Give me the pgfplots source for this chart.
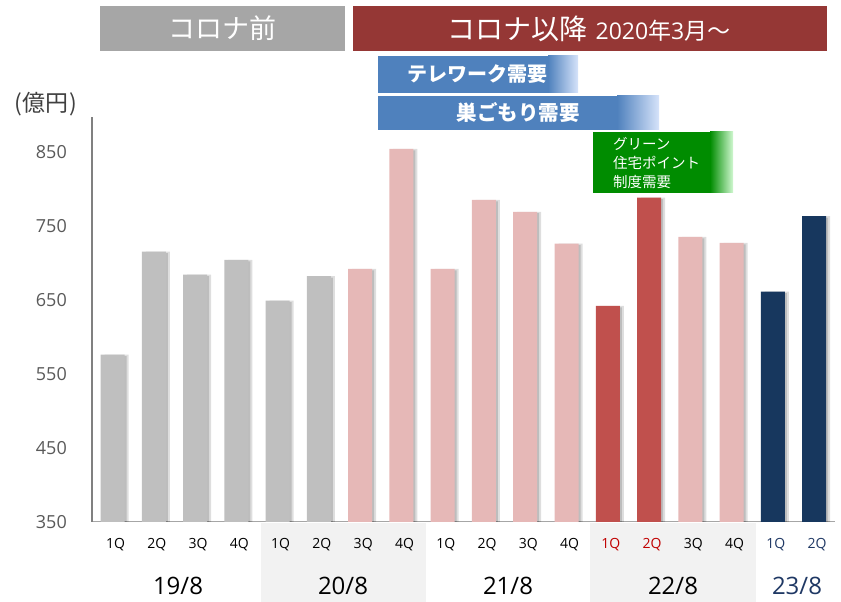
\documentclass[border=0pt]{standalone}
\usepackage{fontspec}
\setmainfont{Noto Sans CJK JP}
\newfontfamily\latin{Open Sans}
\usepackage{pgfplots}
\pgfplotsset{compat=1.18}
\definecolor{barGray}{HTML}{BFBFBF}
\definecolor{barPink}{HTML}{E6B8B7}
\definecolor{barRed}{HTML}{C0504D}
\definecolor{barNavy}{HTML}{17375E}
\definecolor{banGray}{HTML}{A6A6A6}
\definecolor{banRed}{HTML}{953735}
\definecolor{banBlue}{HTML}{4F81BD}
\definecolor{banBlueL}{HTML}{D6E3FA}
\definecolor{banGreen}{HTML}{008C00}
\definecolor{banGreenL}{HTML}{D0F8D0}
\definecolor{shadeBg}{HTML}{F2F2F2}
\definecolor{qred}{HTML}{C00000}
\definecolor{qnavy}{HTML}{1F3864}
\definecolor{tickGray}{HTML}{595959}
\begin{document}
\begin{tikzpicture}[x=1pt,y=1pt]
\path (0,0) rectangle (841,602);
% shaded bands behind the year labels
\fill[shadeBg] (261,0) rectangle (426,79);
\fill[shadeBg] (590,0) rectangle (756,79);
\begin{axis}[
  at={(92pt,80pt)}, anchor=south west,
  scale only axis, width=742.7pt, height=405pt,
  xmin=-0.5, xmax=17.5, ymin=350, ymax=897,
  ybar, bar width=24pt,
  axis x line*=bottom, axis y line*=left,
  x axis line style={draw=black!35, line width=1pt},
  y axis line style={draw=black!50, line width=1.5pt},
  major tick length=0pt,
  xtick={0,...,17},
  xticklabels={1Q,2Q,3Q,4Q,1Q,2Q,3Q,4Q,1Q,2Q,3Q,4Q,{\textcolor{qred}{1Q}},{\textcolor{qred}{2Q}},3Q,4Q,{\textcolor{qnavy}{1Q}},{\textcolor{qnavy}{2Q}}},
  xticklabel style={anchor=base, yshift=-27pt, xshift=3pt, font=\latin\fontsize{14}{14}\selectfont},
  ytick={350,450,550,650,750,850},
  yticklabel style={inner sep=0pt, xshift=-25pt, text=tickGray, font=\latin\fontsize{18}{18}\selectfont},
  /pgf/number format/assume math mode=true,
  clip=true,
]
% shadows
\addplot[draw=none, fill=black, opacity=0.13, bar shift=4pt] coordinates {(0,576)(1,715)(2,684)(3,704)(4,649)(5,682)(6,692)(7,854)(8,692)(9,785)(10,769)(11,726)(12,642)(13,788)(14,735)(15,727)(16,661)(17,763)};
\addplot[draw=none, fill=black, opacity=0.15, bar shift=2pt] coordinates {(0,574)(1,713)(2,682)(3,702)(4,647)(5,680)(6,690)(7,852)(8,690)(9,783)(10,767)(11,724)(12,640)(13,786)(14,733)(15,725)(16,659)(17,761)};
% bars
\addplot[draw=none, fill=barGray, bar shift=0pt] coordinates {(0,576)(1,715)(2,684)(3,704)(4,649)(5,682)};
\addplot[draw=none, fill=barPink, bar shift=0pt] coordinates {(6,692)(7,854)(8,692)(9,785)(10,769)(11,726)(14,735)(15,727)};
\addplot[draw=none, fill=barRed, bar shift=0pt] coordinates {(12,642)(13,788)};
\addplot[draw=none, fill=barNavy, bar shift=0pt] coordinates {(16,661)(17,763)};
\end{axis}
% year labels
\begin{scope}[every node/.style={anchor=base, inner sep=0pt, font=\latin\fontsize{24}{24}\selectfont}]
\node at (178,7) {19/8};
\node at (343,7) {20/8};
\node at (508,7) {21/8};
\node at (673,7) {22/8};
\node[text=qnavy] at (797,7) {23/8};
\end{scope}
% unit label
\node[text=black!75, font=\fontsize{23}{23}\selectfont, inner sep=0pt] at (46,498) {(\hspace{1pt}億円\hspace{1pt})};
% banners
\fill[banGray] (100,551) rectangle (345,596);
\node[white, font=\fontsize{27}{27}\selectfont] at (222.5,573.5) {コロナ前};
\fill[banRed] (353,551) rectangle (827,596);
\node[white] at (589,573.5) {\fontsize{28}{28}\selectfont コロナ以降\hspace{8pt}\fontsize{23}{23}\selectfont{\latin 2020}年{\latin 3}月～};
\fill[banBlue] (378,509) rectangle (578,546);
\shade[left color=banBlue, right color=banBlueL] (548,509) rectangle (578,546);
\node[white, font=\fontsize{20}{20}\selectfont\bfseries] at (477,527.5) {テレワーク需要};
\fill[banBlue] (378,472) rectangle (659,506);
\shade[left color=banBlue, right color=banBlueL] (617,472) rectangle (659,506);
\node[white, font=\fontsize{20.5}{20.5}\selectfont\bfseries] at (518,489) {巣ごもり需要};
\fill[banGreen] (593,409) rectangle (733,470);
\shade[left color=banGreen, right color=banGreenL] (710,409) rectangle (733,470);
\node[white, anchor=west, align=left, inner sep=0pt, font=\fontsize{14.5}{19}\selectfont] at (613,438.5) {グリーン\\住宅ポイント\\制度需要};
\end{tikzpicture}
\end{document}
